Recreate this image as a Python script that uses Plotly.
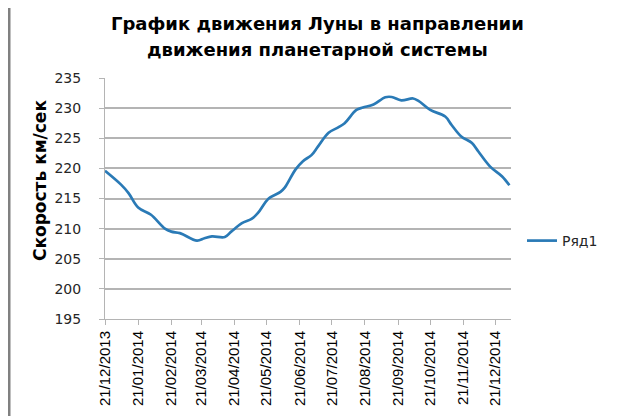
import plotly.graph_objects as go

dates = [
    "2013-12-21", "2014-01-05", "2014-01-12", "2014-01-21", "2014-02-02", "2014-02-15",
    "2014-02-21", "2014-03-01", "2014-03-17", "2014-03-24", "2014-03-31", "2014-04-12",
    "2014-04-18", "2014-04-28", "2014-05-07", "2014-05-13", "2014-05-23", "2014-06-03",
    "2014-06-07", "2014-06-17", "2014-06-24", "2014-07-02", "2014-07-08", "2014-07-18",
    "2014-07-27", "2014-08-02", "2014-08-13", "2014-08-19", "2014-08-29", "2014-09-09",
    "2014-09-15", "2014-09-24", "2014-10-05", "2014-10-10", "2014-10-21", "2014-11-04",
    "2014-11-10", "2014-11-19", "2014-11-29", "2014-12-05", "2014-12-16", "2014-12-27",
    "2015-01-03",
]
speed = [
    219.6, 217.3, 215.9, 213.5, 212.3, 210.0,
    209.5, 209.25, 208.0, 208.4, 208.7, 208.6,
    209.5, 210.9, 211.6, 212.6, 215.0, 216.1,
    216.8, 219.8, 221.2, 222.2, 223.6, 225.9,
    226.8, 227.5, 229.7, 230.1, 230.6, 231.8,
    231.85, 231.3, 231.6, 231.2, 229.7, 228.6,
    227.2, 225.3, 224.2, 222.8, 220.3, 218.7,
    217.2,
]
tick_dates = [
    "2013-12-21", "2014-01-21", "2014-02-21", "2014-03-21", "2014-04-21", "2014-05-21",
    "2014-06-21", "2014-07-21", "2014-08-21", "2014-09-21", "2014-10-21", "2014-11-21",
    "2014-12-21",
]
tick_labels = [
    "21/12/2013", "21/01/2014", "21/02/2014", "21/03/2014", "21/04/2014", "21/05/2014",
    "21/06/2014", "21/07/2014", "21/08/2014", "21/09/2014", "21/10/2014", "21/11/2014",
    "21/12/2014",
]
series_name = "Ряд1"
title_lines = ["График движения Луны в направлении", "движения планетарной системы"]
y_title = "Скорость км/сек"

W, H = 618, 416
L, R, T, B = 97, 115, 70, 105
pw, ph = W - L - R, H - T - B

def px(x):
    return (x - L) / pw

def py(y):
    return (H - B - y) / ph

fig = go.Figure()
fig.add_trace(go.Scatter(
    x=dates, y=speed, mode="lines", name=series_name,
    line=dict(color="#2a7ab6", width=2.7, shape="spline", smoothing=1.0),
))

grey = "#b4b4b4"
title_font = dict(family="DejaVu Sans", size=18, color="#000000", weight="bold")
fig.update_layout(
    width=W, height=H,
    margin=dict(l=L, r=R, t=T, b=B),
    paper_bgcolor="white", plot_bgcolor="white",
    showlegend=True,
    legend=dict(x=px(514), y=py(233), xanchor="left", yanchor="middle",
                font=dict(family="DejaVu Sans", size=14, color="#262626"),
                bgcolor="rgba(0,0,0,0)"),
    xaxis=dict(
        type="date", range=["2013-12-21", "2015-01-04 12:00"],
        tickvals=tick_dates, ticktext=tick_labels, tickangle=-90,
        tickfont=dict(family="Liberation Sans", size=15, color="#000000"),
        showgrid=False, showline=True, linecolor=grey, linewidth=1,
        ticks="outside", ticklen=5, tickcolor=grey, zeroline=False,
    ),
    yaxis=dict(
        range=[195, 235], dtick=5, tick0=195,
        tickfont=dict(family="DejaVu Sans", size=14, color="#262626"),
        ticklabelstandoff=15,
        showgrid=True, gridcolor=grey, gridwidth=1.5,
        showline=True, linecolor=grey, linewidth=1,
        ticks="outside", ticklen=5, tickcolor=grey, zeroline=False,
    ),
    annotations=[
        dict(text=title_lines[0], x=px(309), y=py(16), xref="paper", yref="paper",
             showarrow=False, xanchor="center", yanchor="middle", font=title_font),
        dict(text=title_lines[1], x=px(309), y=py(41), xref="paper", yref="paper",
             showarrow=False, xanchor="center", yanchor="middle", font=title_font),
        dict(text=y_title, x=px(44), y=py(172), xref="paper", yref="paper",
             textangle=-90, showarrow=False, xanchor="right", yanchor="middle",
             font=dict(family="DejaVu Sans", size=17, color="#000000", weight="bold")),
    ],
    shapes=[
        dict(type="rect", xref="paper", yref="paper", x0=px(0), x1=px(2.5), y0=py(H), y1=py(0),
             fillcolor="#808080", line=dict(width=0), layer="above"),
        dict(type="rect", xref="paper", yref="paper", x0=px(615.5), x1=px(W), y0=py(H), y1=py(0),
             fillcolor="#808080", line=dict(width=0), layer="above"),
        dict(type="rect", xref="paper", yref="paper", x0=px(0), x1=px(W), y0=py(H), y1=py(413),
             fillcolor="#808080", line=dict(width=0), layer="above"),
    ],
)

fig.write_html("out.html")
